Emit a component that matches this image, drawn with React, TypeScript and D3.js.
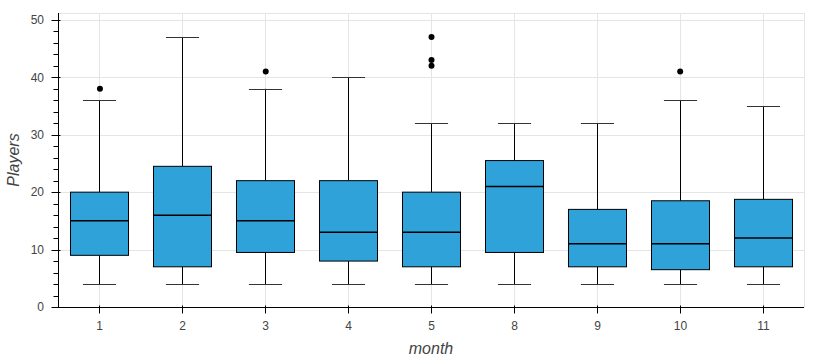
import React, { useEffect, useRef } from "react";
import * as d3 from "d3";

// box statistics per month
const months = ["1", "2", "3", "4", "5", "8", "9", "10", "11"];
const whiskerLow = [4, 4, 4, 4, 4, 4, 4, 4, 4];
const q1 = [9, 7, 9.5, 8, 7, 9.5, 7, 6.5, 7];
const median = [15, 16, 15, 13, 13, 21, 11, 11, 12];
const q3 = [20, 24.5, 22, 22, 20, 25.5, 17, 18.5, 18.75];
const whiskerHigh = [36, 47, 38, 40, 32, 32, 32, 36, 35];

const outlierMonths = ["1", "3", "5", "5", "5", "10"];
const outlierValues = [38, 41, 47, 43, 42, 41];

const yTicks = [0, 10, 20, 30, 40, 50];

const W = 840;
const H = 360;
const margin = { top: 13, right: 36, bottom: 53, left: 58 };
const FONT = "'Liberation Sans', Arial, Helvetica, sans-serif";

function drawChart(node: SVGSVGElement) {
  const svg = d3.select(node);
  svg.selectAll("*").remove();

  const x = d3
    .scaleBand()
    .domain(months)
    .range([margin.left, W - margin.right]);

  const y = d3
    .scaleLinear()
    .domain([0, 51.2])
    .range([H - margin.bottom, margin.top]);

  const bw = x.bandwidth();
  const cx = (m: string) => (x(m) as number) + bw / 2;

  // frame outline
  svg
    .append("rect")
    .attr("x", margin.left + 0.5)
    .attr("y", margin.top + 0.5)
    .attr("width", W - margin.right - margin.left)
    .attr("height", H - margin.bottom - margin.top)
    .attr("fill", "none")
    .attr("stroke", "#e5e5e5");

  // grid
  const grid = svg.append("g").attr("stroke", "#e5e5e5").attr("stroke-width", 1);
  yTicks.forEach((t) => {
    grid
      .append("line")
      .attr("x1", margin.left)
      .attr("x2", W - margin.right)
      .attr("y1", Math.round(y(t)) + 0.5)
      .attr("y2", Math.round(y(t)) + 0.5);
  });
  months.forEach((m) => {
    grid
      .append("line")
      .attr("x1", Math.round(cx(m)) + 0.5)
      .attr("x2", Math.round(cx(m)) + 0.5)
      .attr("y1", margin.top)
      .attr("y2", H - margin.bottom);
  });

  // boxes
  const boxes = svg.append("g");
  months.forEach((m, i) => {
    const c = Math.round(cx(m)) + 0.5;
    const boxW = bw * 0.7;
    const capW = bw * 0.4;
    const g = boxes.append("g").attr("stroke", "#000").attr("stroke-width", 1);
    // whiskers
    g.append("line").attr("x1", c).attr("x2", c).attr("y1", y(whiskerHigh[i])).attr("y2", y(q3[i]));
    g.append("line").attr("x1", c).attr("x2", c).attr("y1", y(q1[i])).attr("y2", y(whiskerLow[i]));
    g.append("line")
      .attr("x1", c - capW / 2)
      .attr("x2", c + capW / 2)
      .attr("y1", Math.round(y(whiskerHigh[i])) + 0.5)
      .attr("y2", Math.round(y(whiskerHigh[i])) + 0.5)
      .attr("stroke", "#333");
    g.append("line")
      .attr("x1", c - capW / 2)
      .attr("x2", c + capW / 2)
      .attr("y1", Math.round(y(whiskerLow[i])) + 0.5)
      .attr("y2", Math.round(y(whiskerLow[i])) + 0.5)
      .attr("stroke", "#333");
    // box
    g.append("rect")
      .attr("x", c - boxW / 2)
      .attr("y", y(q3[i]))
      .attr("width", boxW)
      .attr("height", y(q1[i]) - y(q3[i]))
      .attr("fill", "#30a2da");
    g.append("line")
      .attr("x1", c - boxW / 2)
      .attr("x2", c + boxW / 2)
      .attr("y1", y(median[i]))
      .attr("y2", y(median[i]))
      .attr("stroke-width", 1.5);
  });

  // outliers
  svg
    .append("g")
    .selectAll("circle")
    .data(outlierValues)
    .enter()
    .append("circle")
    .attr("cx", (_d, i) => cx(outlierMonths[i]) + 0.5)
    .attr("cy", (d) => y(d))
    .attr("r", 3)
    .attr("fill", "#000");

  // y axis: major ticks out 6 / in 2, minor out 4
  const ya = svg.append("g");
  const axisX = margin.left + 0.5;
  ya.append("line")
    .attr("x1", axisX)
    .attr("x2", axisX)
    .attr("y1", margin.top)
    .attr("y2", H - margin.bottom)
    .attr("stroke", "#000");
  d3.range(0, 51, 2).forEach((t) => {
    const major = t % 10 === 0;
    const yy = Math.round(y(t)) + 0.5;
    ya.append("line")
      .attr("x1", axisX - (major ? 7 : 5))
      .attr("x2", axisX + (major ? 2 : 0))
      .attr("y1", yy)
      .attr("y2", yy)
      .attr("stroke", "#000");
  });
  yTicks.forEach((t) => {
    ya.append("text")
      .attr("x", 44)
      .attr("y", y(t))
      .attr("dy", "0.35em")
      .attr("text-anchor", "end")
      .attr("font-family", FONT)
      .attr("font-size", 12)
      .attr("fill", "#444")
      .text(t);
  });

  // x axis
  const xa = svg.append("g");
  const axisY = H - margin.bottom + 0.5;
  xa.append("line")
    .attr("x1", margin.left)
    .attr("x2", W - margin.right)
    .attr("y1", axisY)
    .attr("y2", axisY)
    .attr("stroke", "#000");
  months.forEach((m) => {
    const c = Math.round(cx(m)) + 0.5;
    xa.append("line")
      .attr("x1", c)
      .attr("x2", c)
      .attr("y1", axisY - 2)
      .attr("y2", axisY + 6)
      .attr("stroke", "#000");
    xa.append("text")
      .attr("x", c)
      .attr("y", 330)
      .attr("text-anchor", "middle")
      .attr("font-family", FONT)
      .attr("font-size", 12)
      .attr("fill", "#444")
      .text(m);
  });

  // axis labels
  svg
    .append("text")
    .attr("x", (margin.left + W - margin.right) / 2)
    .attr("y", 354)
    .attr("text-anchor", "middle")
    .attr("font-family", FONT)
    .attr("font-size", 16)
    .attr("font-style", "italic")
    .attr("fill", "#444")
    .text("month");

  svg
    .append("text")
    .attr("transform", `translate(19,${(margin.top + H - margin.bottom) / 2}) rotate(-90)`)
    .attr("text-anchor", "middle")
    .attr("font-family", FONT)
    .attr("font-size", 16)
    .attr("font-style", "italic")
    .attr("fill", "#444")
    .text("Players");
}

export default function App() {
  const ref = useRef<SVGSVGElement>(null);

  useEffect(() => {
    if (ref.current) drawChart(ref.current);
  }, []);

  return (
    <svg
      ref={ref}
      width={W}
      height={H}
      style={{ position: "absolute", left: 0, top: 0, background: "#fff" }}
    />
  );
}
